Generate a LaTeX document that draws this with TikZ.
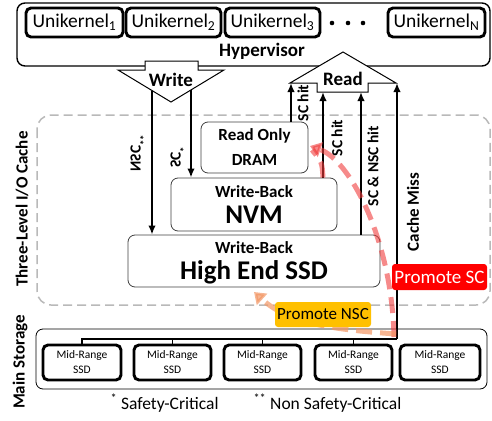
\documentclass[tikz,border=0pt]{standalone}
\usepackage{fontspec}
\setmainfont{Carlito}
\usetikzlibrary{arrows.meta}
\definecolor{scred}{RGB}{240,60,60}
\definecolor{nscorange}{RGB}{242,150,100}
\definecolor{nscfill}{RGB}{255,192,0}

\begin{document}
\begin{tikzpicture}[x=1pt,y=-1pt,
    ukbox/.style={draw,line width=2.9pt,rounded corners=5pt,minimum height=29pt,inner sep=0pt,font=\fontsize{19.5}{21}\selectfont},
    cachebox/.style={draw=black!75,line width=0.8pt,rounded corners=7pt,fill=white,inner sep=0pt,align=center},
    ssdbox/.style={draw,line width=2.9pt,rounded corners=5pt,minimum height=35pt,inner sep=0pt,align=center,font=\fontsize{11.5}{15}\selectfont},
    flow/.style={line width=2.3pt,-{Latex[length=9pt,width=7.5pt]}},
    hitlabel/.style={rotate=90,font=\bfseries\fontsize{15.5}{17}\selectfont},
    sidelabel/.style={rotate=90,font=\bfseries\fontsize{17}{19}\selectfont},
    promote/.style={rounded corners=3pt,inner sep=0pt},
    promline/.style={line width=5pt,dash pattern=on 16pt off 8pt}]
  \useasboundingbox (0,0) rectangle (492,420);

  \draw[line width=1.4pt,rounded corners=8pt] (17,3) rectangle (490,66);
  \node[ukbox,minimum width=97pt] (uk1) at (74.5,22.5) {Unikernel\textsubscript{1}};
  \node[ukbox,minimum width=95pt] (uk2) at (173.5,22.5) {Unikernel\textsubscript{2}};
  \node[ukbox,minimum width=95pt] (uk3) at (272.5,22.5) {Unikernel\textsubscript{3}};
  \node[ukbox,minimum width=97pt] (ukn) at (436.5,22.5) {Unikernel\textsubscript{N}};
  \fill (332,23) circle (2.3); \fill (348,23) circle (2.3); \fill (363,23) circle (2.3);
  \node[font=\bfseries\fontsize{19}{21}\selectfont] (hyp) at (262,51) {Hypervisor};

  \draw[line width=1pt,fill=white] (145,61) -- (198,61) -- (198,70) -- (224,70) -- (171,102) -- (118,70) -- (145,70) -- cycle;
  \node[font=\bfseries\fontsize{19}{21}\selectfont] (write) at (171,80) {Write};
  \draw[line width=1pt,fill=white] (290,83) -- (343,52) -- (396,83) -- (368,83) -- (368,92) -- (317,92) -- (317,83) -- cycle;
  \node[font=\bfseries\fontsize{19}{21}\selectfont] (read) at (343,79) {Read};

  \draw[gray!55,line width=1.5pt,dash pattern=on 9pt off 5pt,rounded corners=14pt] (37,115) rectangle (490,305);
  \node[sidelabel] (cachelbl) at (22,209) {Three-Level I/O Cache};

  \node[cachebox,minimum width=107pt,minimum height=51pt,font=\bfseries\fontsize{17}{25}\selectfont] (dram) at (254.5,147.5) {Read Only\\DRAM};
  \node[cachebox,minimum width=166pt,minimum height=53pt] (nvm) at (254,204.5) {};
  \node[font=\bfseries\fontsize{17}{19}\selectfont] (nvmwb) at (254,192) {Write-Back};
  \node[font=\bfseries\fontsize{27}{29}\selectfont] (nvmname) at (254,215) {NVM};
  \node[cachebox,minimum width=252pt,minimum height=52pt] (ssd) at (254,261) {};
  \node[font=\bfseries\fontsize{17}{19}\selectfont] (ssdwb) at (254,248) {Write-Back};
  \node[font=\bfseries\fontsize{27}{29}\selectfont] (ssdname) at (254,272) {High End SSD};

  \coordinate (wnsc) at (152,91);
  \coordinate (wsc) at (191,90);
  \draw[flow] (wnsc) -- (wnsc |- ssd.north);
  \draw[flow] (wsc) -- (wsc |- nvm.north);
  \node[rotate=-90,font=\bfseries\fontsize{15.5}{17}\selectfont] (nsclbl) at (137,153) {\reflectbox{NSC\textsuperscript{**}}};
  \node[rotate=-90,font=\bfseries\fontsize{15.5}{17}\selectfont] (sclbl) at (177,157) {\reflectbox{SC\textsuperscript{*}}};

  \coordinate (rdram) at (291,83);
  \coordinate (rnvm) at (323,92);
  \coordinate (rssd) at (361,92);
  \coordinate (rmiss) at (397,83);
  \coordinate (bus) at (397,339);
  \draw[flow] (rdram |- dram.north) -- (rdram);
  \draw[flow] (rnvm |- nvm.north) -- (rnvm);
  \draw[flow] (rssd |- ssd.north) -- (rssd);
  \draw[flow] (bus) -- (rmiss);
  \node[hitlabel] (hit1) at (303,103) {SC hit};
  \node[hitlabel] (hit2) at (337,138) {SC hit};
  \node[hitlabel] (hit3) at (373,166) {SC \& NSC hit};
  \node[rotate=90,font=\bfseries\fontsize{17}{19}\selectfont] (miss) at (413,212) {Cache Miss};

  \draw[line width=0.8pt,rounded corners=7pt] (36,329) rectangle (487,389);
  \node[sidelabel] (mainlbl) at (20,362) {Main Storage};
  \node[ssdbox,minimum width=78pt] (s1) at (82,362.5) {Mid-Range\\SSD};
  \node[ssdbox,minimum width=77pt] (s2) at (172.5,362.5) {Mid-Range\\SSD};
  \node[ssdbox,minimum width=77pt] (s3) at (262.5,362.5) {Mid-Range\\SSD};
  \node[ssdbox,minimum width=77pt] (s4) at (353.5,362.5) {Mid-Range\\SSD};
  \node[ssdbox,minimum width=80pt] (s5) at (440,362.5) {Mid-Range\\SSD};
  \draw[line width=1.8pt] (s1.north) |- (bus);
  \draw[line width=1.8pt] (s2.north) -- (s2.north |- bus);
  \draw[line width=1.8pt] (s3.north) -- (s3.north |- bus);
  \draw[line width=1.8pt] (s4.north) -- (s4.north |- bus);

  \coordinate (scfrom) at (394,337);
  \coordinate (scto) at (310,146);
  \coordinate (nscfrom) at (396,334);
  \coordinate (nscto) at (254,292);
  \draw[promline,scred,opacity=0.6,-{Triangle[length=11pt,width=15pt]}] (scfrom) .. controls (392,240) and (350,160) .. (scto);
  \draw[promline,scred,opacity=0.6] (nvm.north -| rnvm) .. controls (322,162) .. (312,150);
  \draw[promline,nscorange,opacity=0.7,-{Triangle[length=11pt,width=15pt]}] (nscfrom) .. controls (340,330) and (290,325) .. (nscto);
  \node[promote,fill=red,text=white,minimum width=95pt,minimum height=26pt,font=\fontsize{19}{21}\selectfont] (psc) at (439.5,277) {Promote SC};
  \node[promote,fill=nscfill,minimum width=96pt,minimum height=25pt,font=\fontsize{17}{19}\selectfont] (pnsc) at (323,314.5) {Promote NSC};

  \node[anchor=west,font=\fontsize{17.5}{19}\selectfont] (fn1) at (107,403) {\textsuperscript{*} Safety-Critical};
  \node[anchor=west,font=\fontsize{17.5}{19}\selectfont] (fn2) at (250,403) {\textsuperscript{**} Non Safety-Critical};
\end{tikzpicture}
\end{document}
